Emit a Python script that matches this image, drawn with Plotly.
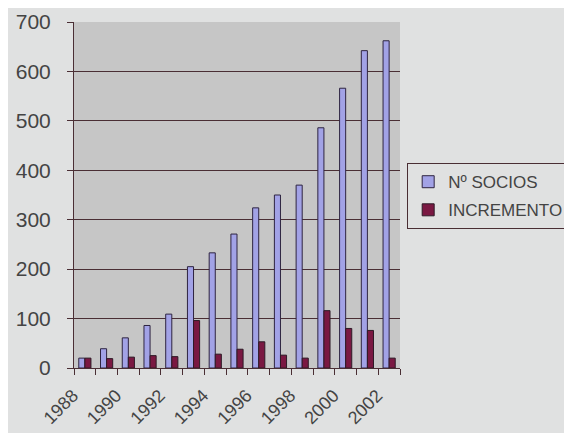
import plotly.graph_objects as go

years = [str(y) for y in range(1988, 2003)]
socios = [20, 39, 61, 86, 109, 205, 233, 271, 324, 350, 370, 486, 566, 642, 662]
incremento = [20, 19, 22, 25, 23, 96, 28, 38, 53, 26, 20, 116, 80, 76, 20]
year_labels = [y if i % 2 == 0 else "" for i, y in enumerate(years)]
y_ticks = [0, 100, 200, 300, 400, 500, 600, 700]

AXIS = "#4a2e34"
TXT = "#444444"
FONT = "Liberation Sans, Arial, sans-serif"

fig = go.Figure()
fig.add_trace(go.Bar(
    x=years, y=socios, name="Nº SOCIOS", legendgroup="a",
    marker=dict(color="#a2a2e6", line=dict(color="#2e2440", width=1)),
))
fig.add_trace(go.Bar(
    x=years, y=incremento, name="INCREMENTO", legendgroup="b",
    marker=dict(color="#7a1842", line=dict(color="#2e1a26", width=1)),
))

fig.update_layout(
    width=572, height=433,
    margin=dict(l=66, r=180, t=14, b=73, autoexpand=False),
    paper_bgcolor="#e0e1e1",
    plot_bgcolor="#c6c6c6",
    barmode="group",
    bargap=0.44,
    bargroupgap=0,
    font=dict(family=FONT, color=TXT),
    showlegend=True,
    legend=dict(
        x=1.022, xanchor="left", y=0.592, yanchor="top",
        bordercolor=AXIS, borderwidth=1, bgcolor="rgba(0,0,0,0)",
        font=dict(size=17, color=TXT, family=FONT),
        traceorder="grouped", tracegroupgap=3,
        itemwidth=30,
    ),
    xaxis=dict(
        type="category", automargin=False,
        tickmode="array", tickvals=years, ticktext=year_labels,
        tickangle=-45, tickson="boundaries",
        ticks="outside", ticklen=6, tickcolor=AXIS, tickwidth=1,
        showline=True, linecolor=AXIS, linewidth=1,
        showgrid=False,
        ticklabelshift=-12, ticklabelstandoff=9,
        tickfont=dict(size=18, color=TXT, family=FONT),
    ),
    yaxis=dict(
        range=[0, 700], tickmode="array", tickvals=y_ticks, automargin=False,
        ticks="outside", ticklen=6, tickcolor=AXIS, tickwidth=1,
        showline=True, linecolor=AXIS, linewidth=1,
        showgrid=True, gridcolor=AXIS, gridwidth=1,
        zeroline=False,
        ticklabelstandoff=12,
        tickfont=dict(size=21, color=TXT, family=FONT),
    ),
)

fig.write_html("out.html")
